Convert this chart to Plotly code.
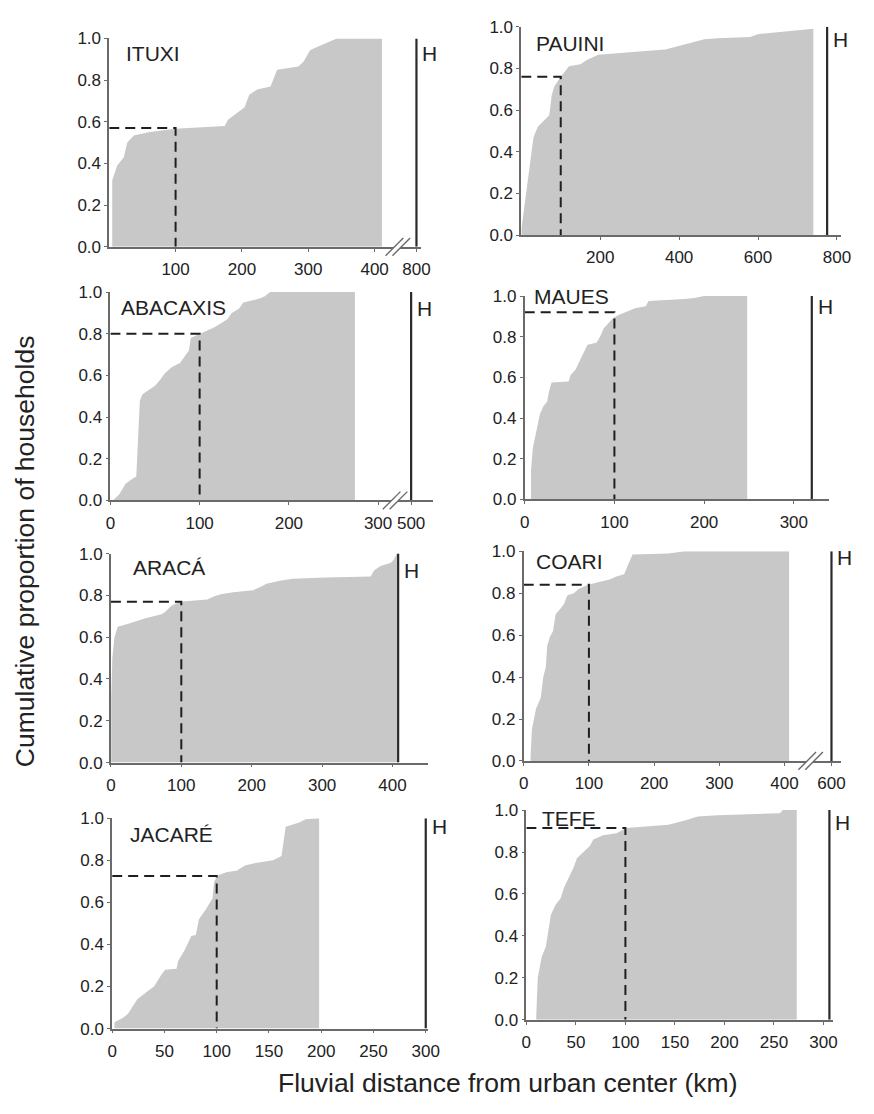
import plotly.graph_objects as go

W, H = 874, 1114

# ---------------- data ----------------
sites = ["ITUXI", "PAUINI", "ABACAXIS", "MAUES", "ARACÁ", "COARI", "JACARÉ", "TEFE"]

ituxi_km = [4.5, 12, 22, 27, 37, 59, 99, 174, 179, 194, 204, 211, 223, 243, 253, 285, 293, 303, 323, 328, 343, 411]
ituxi_prop = [0.32, 0.39, 0.43, 0.50, 0.535, 0.55, 0.567, 0.58, 0.61, 0.645, 0.67, 0.73, 0.755, 0.77, 0.85, 0.866,
              0.89, 0.945, 0.97, 0.98, 1.0, 1.0]

pauini_km = [0.5, 4, 13, 21, 31, 42, 58, 71, 77, 83, 100, 108, 121, 150, 166, 195, 249, 290, 365, 415, 464, 497,
             580, 601, 733, 740]
pauini_prop = [0.03, 0.08, 0.20, 0.33, 0.47, 0.52, 0.55, 0.575, 0.67, 0.71, 0.76, 0.78, 0.81, 0.82, 0.84, 0.865,
               0.875, 0.88, 0.89, 0.915, 0.94, 0.945, 0.95, 0.965, 0.99, 0.99]

abacaxis_km = [2.7, 10, 17, 23, 29, 33, 36, 43, 50, 56, 61, 69, 78, 83, 88, 90, 100, 116, 124, 131, 136, 144, 149,
               160, 168, 173, 179, 274]
abacaxis_prop = [0.0, 0.03, 0.08, 0.10, 0.115, 0.48, 0.51, 0.53, 0.55, 0.58, 0.61, 0.64, 0.66, 0.69, 0.72, 0.78,
                 0.80, 0.83, 0.85, 0.87, 0.90, 0.92, 0.95, 0.96, 0.97, 0.98, 1.0, 1.0]

maues_km = [7, 9, 17, 21, 25, 27, 30, 49, 51, 57, 60, 66, 70, 80, 84, 88, 94, 98, 104, 123, 135, 138, 178, 189,
            200, 248]
maues_prop = [0.14, 0.25, 0.42, 0.46, 0.48, 0.53, 0.575, 0.58, 0.61, 0.64, 0.67, 0.72, 0.76, 0.77, 0.80, 0.84,
              0.87, 0.89, 0.905, 0.94, 0.95, 0.975, 0.985, 0.99, 1.0, 1.0]

araca_km = [0.5, 2, 5, 9.7, 26, 49, 72, 77, 86, 98, 119, 137, 146, 156, 174, 202, 212, 221, 240, 258, 305, 369,
            374, 383, 397, 402, 406, 408]
araca_prop = [0.30, 0.50, 0.60, 0.65, 0.665, 0.69, 0.71, 0.72, 0.75, 0.77, 0.775, 0.78, 0.795, 0.805, 0.815, 0.825,
              0.84, 0.855, 0.87, 0.88, 0.885, 0.89, 0.92, 0.94, 0.955, 0.97, 1.0, 1.0]

coari_km = [10.5, 12.5, 19, 26, 30, 34, 36, 40, 45, 49, 56, 62, 67, 77, 84, 99, 117, 132, 142, 154, 162, 167, 222,
            247, 407]
coari_prop = [0.02, 0.15, 0.25, 0.30, 0.40, 0.45, 0.55, 0.59, 0.62, 0.70, 0.725, 0.75, 0.79, 0.80, 0.82, 0.84, 0.855,
              0.865, 0.88, 0.89, 0.95, 0.985, 0.99, 1.0, 1.0]

jacare_km = [2.2, 10, 15, 24, 32, 40, 47.5, 50.7, 61.6, 63, 69, 75.7, 80, 83, 90, 96, 97.6, 102, 110, 119, 127, 135,
             154, 162, 166, 179, 185, 194.5, 198]
jacare_prop = [0.03, 0.05, 0.07, 0.14, 0.17, 0.20, 0.26, 0.28, 0.285, 0.32, 0.37, 0.44, 0.445, 0.52, 0.57, 0.62,
               0.70, 0.73, 0.745, 0.75, 0.775, 0.785, 0.80, 0.82, 0.96, 0.98, 0.995, 1.0, 1.0]

tefe_km = [10, 11.5, 15.5, 19.7, 24.7, 29.6, 34.6, 38, 43, 48, 51, 58, 64.3, 67.6, 77.5, 91, 101, 117, 143.5, 160,
           173, 193, 226, 256, 259, 273]
tefe_prop = [0.02, 0.20, 0.30, 0.35, 0.50, 0.55, 0.58, 0.63, 0.68, 0.73, 0.77, 0.80, 0.83, 0.86, 0.88, 0.89, 0.915,
             0.92, 0.93, 0.95, 0.97, 0.975, 0.98, 0.985, 1.0, 1.0]

km_series = [ituxi_km, pauini_km, abacaxis_km, maues_km, araca_km, coari_km, jacare_km, tefe_km]
prop_series = [ituxi_prop, pauini_prop, abacaxis_prop, maues_prop, araca_prop, coari_prop, jacare_prop, tefe_prop]

# threshold distance and proportion of households within it (dashed guide)
threshold_km = 100
prop_at_threshold = [0.57, 0.76, 0.80, 0.92, 0.77, 0.84, 0.725, 0.915]

# distance of the urban center (H) for each river
h_distance_km = [800, 775, 500, 320, 408, 600, 300, 306]

x_tick_values = [
    [100, 200, 300, 400],
    [200, 400, 600, 800],
    [0, 100, 200, 300],
    [0, 100, 200, 300],
    [0, 100, 200, 300, 400],
    [0, 100, 200, 300, 400],
    [0, 50, 100, 150, 200, 250, 300],
    [0, 50, 100, 150, 200, 250, 300],
]
y_tick_values = [0.0, 0.2, 0.4, 0.6, 0.8, 1.0]

# ---------------- layout (pixel geometry, styles) ----------------
# x0 px of zero, px per km, axis end (km units), top px (y=1), bottom px (y=0)
geom = [
    (106.3, 0.6767, 470, 30, 242),
    (526.5, 0.4025, 810, 18, 230),
    (107.5, 0.910, 362, 288, 500),
    (530.0, 0.915, 339, 292, 499),
    (108.0, 0.718, 451, 554, 766.7),
    (529.0, 0.665, 487, 551.7, 765),
    (109.3, 1.066, 302, 823.3, 1037.3),
    (531.7, 1.010, 310, 815, 1028.3),
]
# broken axes: display position of H and centre of the break marks (axis units)
h_display = {0: 463, 2: 337, 5: 472}
break_center = {0: 435, 2: 319, 5: 440}
label_pos = [(23, 0.93), (33, 0.917), (10, 0.925), (7.6, 1.0), (28, 0.935), (16.5, 0.95), (14.7, 0.925), (14, 0.96)]
h_label_y = [0.93, 0.94, 0.92, 0.95, 0.92, 0.97, 0.96, 0.94]

FILL = "rgb(200,200,200)"
AXIS = "#6a6a6a"
TXT = "#222222"
FONT = "Liberation Sans, Arial, sans-serif"

fig = go.Figure()
layout = dict(
    width=W, height=H, margin=dict(l=0, r=0, t=0, b=0),
    paper_bgcolor="white", plot_bgcolor="white", showlegend=False,
    font=dict(family=FONT, color=TXT),
)
shapes = []
annotations = []


def px2paper(px, py):
    return px / W, 1 - py / H


for i in range(8):
    n = i + 1
    xa = "x" if n == 1 else f"x{n}"
    ya = "y" if n == 1 else f"y{n}"
    x0, ppu, xend, ytop, ybot = geom[i]
    x1 = x0 + xend * ppu

    # cumulative fill
    fig.add_trace(go.Scatter(
        x=km_series[i], y=prop_series[i], mode="lines",
        line=dict(shape="linear", width=0, color=FILL),
        fill="tozeroy", fillcolor=FILL, xaxis=xa, yaxis=ya, hoverinfo="skip"))

    # dashed threshold guide
    p = prop_at_threshold[i]
    fig.add_trace(go.Scatter(
        x=[0, threshold_km, threshold_km], y=[p, p, 0], mode="lines",
        line=dict(color="#1e1e1e", width=2, dash="10px,6px"),
        xaxis=xa, yaxis=ya, hoverinfo="skip"))

    # H line
    hx = h_display.get(i, h_distance_km[i])
    fig.add_trace(go.Scatter(
        x=[hx, hx], y=[0, 1], mode="lines",
        line=dict(color="#2a2a2a", width=2.2),
        xaxis=xa, yaxis=ya, hoverinfo="skip"))

    tv = list(x_tick_values[i])
    tt = [str(v) for v in tv]
    if i in h_display:
        tv.append(h_display[i])
        tt.append(str(h_distance_km[i]))

    layout["xaxis" if n == 1 else f"xaxis{n}"] = dict(
        domain=[x0 / W, x1 / W], range=[0, xend], anchor=ya,
        showline=True, linecolor=AXIS, linewidth=1.6, ticks="outside", ticklen=3,
        tickcolor=AXIS, tickvals=tv, ticktext=tt, showgrid=False, zeroline=False,
        tickfont=dict(family=FONT, size=17, color=TXT), ticklabelstandoff=3)
    layout["yaxis" if n == 1 else f"yaxis{n}"] = dict(
        domain=[1 - ybot / H, 1 - ytop / H], range=[0, 1], anchor=xa,
        showline=True, linecolor=AXIS, linewidth=1.6, ticks="outside", ticklen=3,
        tickcolor=AXIS, tickvals=y_tick_values, ticktext=[f"{v:.1f}" for v in y_tick_values],
        showgrid=False, zeroline=False, tickfont=dict(family=FONT, size=17, color=TXT))

    # panel name
    lx, ly = label_pos[i]
    annotations.append(dict(
        x=lx, y=ly, xref=xa, yref=ya, text=sites[i], showarrow=False,
        xanchor="left", yanchor="middle", font=dict(family=FONT, size=21, color=TXT)))
    # H label
    annotations.append(dict(
        x=hx, y=h_label_y[i], xref=xa, yref=ya, text="H", showarrow=False,
        xanchor="left", yanchor="middle", xshift=4, font=dict(family=FONT, size=21, color=TXT)))

    # axis break marks
    if i in break_center:
        cx = x0 + break_center[i] * ppu
        off = 3.5
        dx, dy = 9, 9
        a1 = px2paper(cx - off - dx, ybot + dy)
        b1 = px2paper(cx - off + dx, ybot - dy)
        a2 = px2paper(cx + off - dx, ybot + dy)
        b2 = px2paper(cx + off + dx, ybot - dy)
        path = (f"M {a1[0]},{a1[1]} L {b1[0]},{b1[1]} L {b2[0]},{b2[1]} "
                f"L {a2[0]},{a2[1]} Z")
        shapes.append(dict(type="path", path=path, xref="paper", yref="paper",
                           fillcolor="white", line=dict(width=0), layer="above"))
        for a, b in ((a1, b1), (a2, b2)):
            shapes.append(dict(type="line", xref="paper", yref="paper",
                               x0=a[0], y0=a[1], x1=b[0], y1=b[1],
                               line=dict(color=AXIS, width=1.4), layer="above"))

annotations.append(dict(
    x=20 / W, y=1 - 552 / H, xref="paper", yref="paper",
    text="Cumulative proportion of households", textangle=-90, showarrow=False,
    xanchor="center", yanchor="middle", font=dict(family=FONT, size=26.5, color=TXT)))
annotations.append(dict(
    x=513 / W, y=1 - 1093 / H, xref="paper", yref="paper",
    text="Fluvial distance from urban center (km)", showarrow=False,
    xanchor="center", yanchor="middle", font=dict(family=FONT, size=26.5, color=TXT)))

layout["shapes"] = shapes
layout["annotations"] = annotations
fig.update_layout(**layout)
fig.write_html("out.html", config={"displayModeBar": False},
               post_script="document.body.style.margin='0';")
